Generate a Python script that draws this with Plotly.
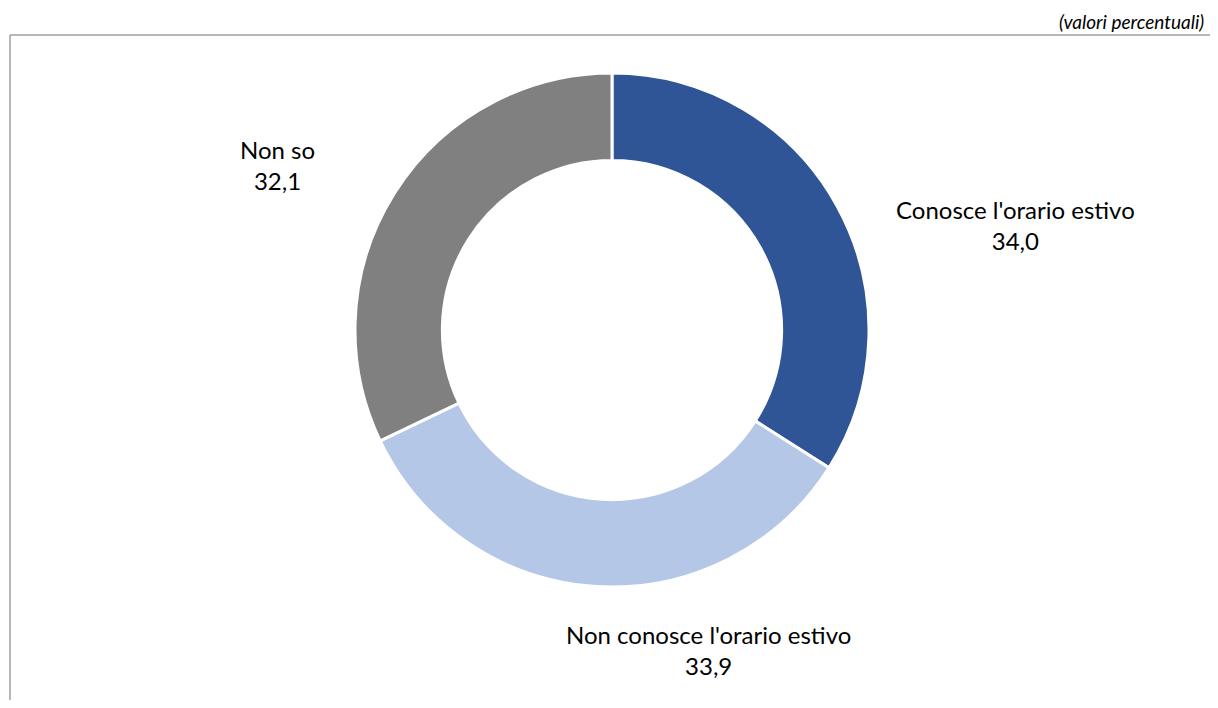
import plotly.graph_objects as go

categories = ["Conosce l'orario estivo", "Non conosce l'orario estivo", "Non so"]
values = [34.0, 33.9, 32.1]
colors = ["#2F5597", "#B4C7E7", "#808080"]
label_pos = [(1015, 225), (708, 650), (277, 165)]  # pixel centres of outside labels (page coords)

OFF = 8  # page body margin
W, H = 1202, 692


def px(x):
    return (x - OFF) / W


def py(y):
    return 1 - (y - OFF) / H


FONT = "Lato, Carlito, Calibri, sans-serif"

fig = go.Figure()
fig.add_trace(go.Pie(
    labels=categories,
    values=values,
    hole=0.66,
    sort=False,
    direction="clockwise",
    rotation=0,
    marker=dict(colors=colors, line=dict(color="white", width=3)),
    textinfo="none",
    hoverinfo="label+value",
    showlegend=False,
    domain=dict(x=[px(355), px(869)], y=[py(587), py(73)]),
))

annotations = []
for cat, val, (lx, ly) in zip(categories, values, label_pos):
    annotations.append(dict(
        x=px(lx), y=py(ly), xref="paper", yref="paper",
        text=f"{cat}<br>{val:.1f}".replace(".", ","),
        showarrow=False, xanchor="center", yanchor="middle",
        font=dict(family=FONT, size=24, color="#000"),
        align="center",
    ))
annotations.append(dict(
    x=px(1206), y=py(22), xref="paper", yref="paper",
    text="<i>(valori percentuali)</i>", showarrow=False,
    xanchor="right", yanchor="middle",
    font=dict(family=FONT, size=19, color="#000"),
))

fig.update_layout(
    width=W, height=H,
    margin=dict(l=0, r=0, t=0, b=0),
    paper_bgcolor="white", plot_bgcolor="white",
    annotations=annotations,
    shapes=[
        dict(type="line", xref="paper", yref="paper", x0=px(10), x1=1, y0=py(35), y1=py(35),
             line=dict(color="#A0A0A0", width=1.5)),
        dict(type="line", xref="paper", yref="paper", x0=px(10), x1=px(10), y0=0, y1=py(35),
             line=dict(color="#A0A0A0", width=1.5)),
    ],
)

fig.write_html("out.html")
